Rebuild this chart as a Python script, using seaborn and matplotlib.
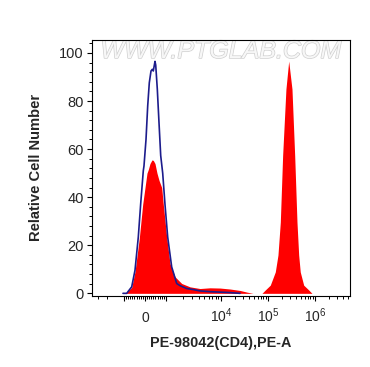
import numpy as np
import matplotlib
matplotlib.use("Agg")
import matplotlib.pyplot as plt
import matplotlib.patheffects as pe
from matplotlib.ticker import FixedLocator, MultipleLocator
import seaborn as sns

# isotype control, blue outline (PE-A intensity, relative cell number)
ctrl_x = [-1043, -871, -633, -476, -319, -205, -81, -48, 48, 129, 205, 286, 348, 395,
          476, 510, 586, 667, 748, 843, 952, 1074, 1269, 1565, 1797, 2377, 3097, 4150,
          6310, 9590, 15540, 25400]
ctrl_y = [0, 0, 2.7, 9.6, 23.4, 37.3, 51, 53, 64, 78, 87.6, 92.5, 93.2, 92.5,
          96.5, 95, 85, 71, 57.3, 50, 37, 23.4, 11, 4.1, 3.2, 2.0, 1.6, 1.0,
          0.7, 0.5, 0.3, 0]

# CD4 stained sample, red fill
cd4_x = [-1000, -857, -633, -476, -271, -110, 95, 157, 238, 333, 395, 476, 571, 667,
         795, 871, 1030, 1182, 1457, 1930, 2730, 4150, 6310, 9590, 15540, 25400, 35700,
         48000, 74500, 87600, 111900, 143000, 163000, 183000, 205000, 241000, 276000,
         324000, 370000, 414000, 450000, 486000, 575000, 735000, 863000]
cd4_y = [0, 0.5, 2.5, 9, 23, 37, 50, 51.5, 54, 55.5, 55.3, 54, 50, 47,
         44, 37, 23.4, 12.4, 6.9, 4.1, 2.7, 2.0, 2.3, 2.2, 1.8, 1.2, 0.5,
         0, 0, 1.4, 3.4, 8.9, 15.9, 29.6, 57.3, 85, 96.6,
         85, 57.3, 29.6, 15.9, 8.9, 3.4, 1.4, 0]

x_major = [-1000, 0, 1000, 1e4, 1e5, 1e6]
x_labels = ["", "0", "", "$10^4$", "$10^5$", "$10^6$"]
y_ticks = [0, 20, 40, 60, 80, 100]


# biexponential-like display: linear around zero, log outside
def fwd(x):
    x = np.asarray(x, dtype=float)
    a = np.maximum(np.abs(x), 1e-9)
    s = np.sign(x)
    lin = 0.021 * x
    mid = s * (21 + 55 * np.log10(a / 1e3))
    hi = s * (76 + 47 * np.log10(a / 1e4))
    return np.where(a <= 1e3, lin, np.where(a <= 1e4, mid, hi))


def inv(u):
    u = np.asarray(u, dtype=float)
    a = np.abs(u)
    s = np.sign(u)
    lin = u / 0.021
    mid = s * 1e3 * 10 ** ((np.minimum(a, 400) - 21) / 55)
    hi = s * 1e4 * 10 ** ((np.minimum(a, 400) - 76) / 47)
    return np.where(a <= 21, lin, np.where(a <= 76, mid, hi))


minor = list(range(-900, 1000, 100))
for dec in [1e3, 1e4, 1e5, 1e6]:
    minor += [k * dec for k in range(2, 10)]
minor += [-2000, -3000]

sns.set_style("ticks")
plt.rcParams['font.family'] = ['Liberation Sans', 'DejaVu Sans']
plt.rcParams['mathtext.fontset'] = 'custom'
plt.rcParams['mathtext.rm'] = 'Liberation Sans'

fig = plt.figure(figsize=(3.70, 3.67), dpi=100)
ax = fig.add_axes([92 / 370, 1 - 295.5 / 367, 258 / 370, 256 / 367])
ax.set_xscale('function', functions=(fwd, inv))

ax.fill_between(cd4_x, cd4_y, 0, color='#ff0000', lw=0, zorder=2)
sns.lineplot(x=ctrl_x, y=ctrl_y, ax=ax, color='#1c1c8c', lw=1.2, zorder=3)

ax.set_xlim(-3818, 5.56e6)
ax.set_ylim(-0.9, 105.6)

ax.xaxis.set_major_locator(FixedLocator(x_major))
ax.set_xticklabels(x_labels)
ax.xaxis.set_minor_locator(FixedLocator(minor))
ax.set_yticks(y_ticks)
ax.yaxis.set_minor_locator(MultipleLocator(4))

ax.tick_params(which='major', length=3.6, width=0.8, color='black', labelsize=10.5,
               labelcolor='#262626', pad=2.5)
ax.tick_params(which='minor', length=2.2, width=0.7, color='black')
ax.tick_params(axis='x', which='major', pad=15.5, labelsize=10)
for lab in ax.get_xticklabels():
    lab.set_va('baseline')

for sp in ax.spines.values():
    sp.set_visible(True)
    sp.set_linewidth(0.8)
    sp.set_color('black')

ax.set_xlabel("PE-98042(CD4),PE-A", fontsize=10.4, fontweight='bold')
ax.set_ylabel("Relative Cell Number", fontsize=10.6, fontweight='bold')
ax.xaxis.set_label_coords(0.5, -0.158)
ax.yaxis.set_label_coords(-0.19, 0.5)

ax.text(0.5, 0.955, "WWW.PTGLAB.COM", transform=ax.transAxes, ha='center', va='center',
        fontsize=18, style='italic', color='#f7f7f7', zorder=1,
        path_effects=[pe.withStroke(linewidth=1.0, foreground='#cfcfcf')])

fig.savefig("out.png", dpi=100)
